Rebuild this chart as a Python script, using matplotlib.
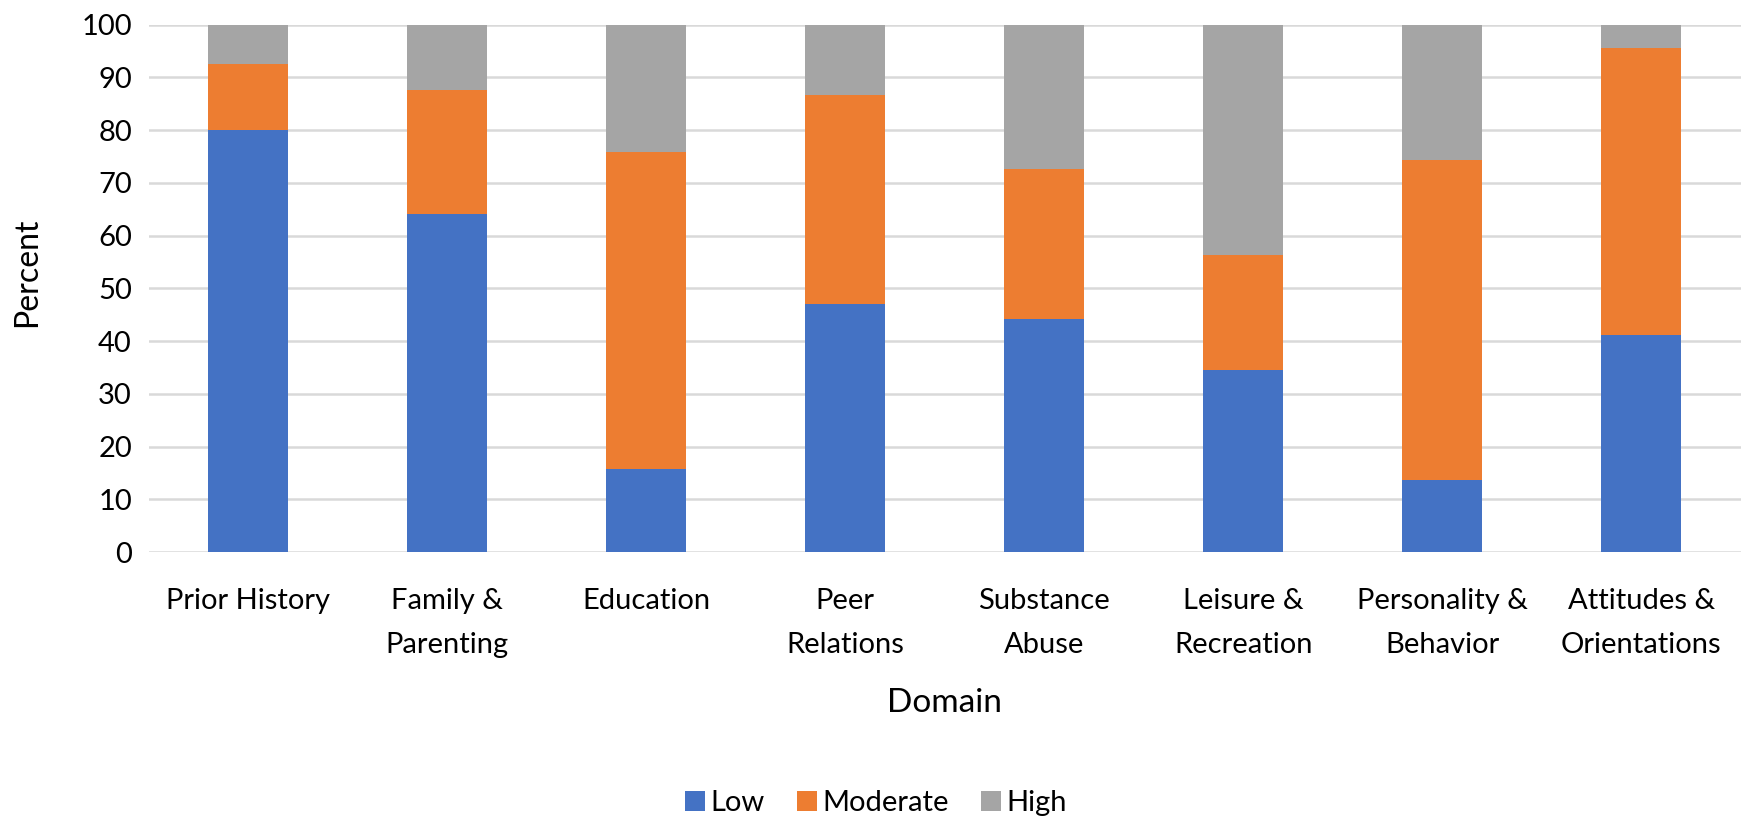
import numpy as np
import matplotlib.pyplot as plt

plt.rcParams['font.family'] = ['Lato', 'DejaVu Sans']

domains = ['Prior History', 'Family &\nParenting', 'Education', 'Peer\nRelations',
           'Substance\nAbuse', 'Leisure &\nRecreation', 'Personality &\nBehavior',
           'Attitudes &\nOrientations']
low = [80.0, 64.1, 15.8, 47.0, 44.1, 34.5, 13.7, 41.1]
moderate = [12.6, 23.6, 60.1, 39.6, 28.5, 21.8, 60.7, 54.5]
high = [7.4, 12.3, 24.1, 13.4, 27.4, 43.7, 25.6, 4.4]

colors = ['#4472C4', '#ED7D31', '#A5A5A5']

fig = plt.figure(figsize=(17.52, 8.21), dpi=100)
ax = fig.add_axes([0.0848, 0.3276, 0.9088, 0.6424])

x = np.arange(len(domains))
width = 0.4
bottom = np.zeros(len(domains))
for vals, label, c in zip([low, moderate, high], ['Low', 'Moderate', 'High'], colors):
    ax.bar(x, vals, width, bottom=bottom, color=c, label=label, zorder=3)
    bottom += np.array(vals)

ax.set_xlim(-0.5, len(domains) - 0.5)
ax.set_ylim(0, 100)
ax.set_yticks(range(0, 101, 10))
ax.set_xticks(x)
ax.set_xticklabels(domains, fontsize=21, linespacing=1.85)
ax.tick_params(axis='y', labelsize=21, length=0, pad=12)
ax.tick_params(axis='x', length=0, pad=26)
ax.grid(axis='y', color='#d9d9d9', linewidth=1.8, zorder=0)
for s in ax.spines.values():
    s.set_visible(False)

ax.set_xlabel('Domain', fontsize=24)
ax.set_ylabel('Percent', fontsize=23)
ax.xaxis.set_label_coords(0.5, -0.258)
ax.yaxis.set_label_coords(-0.067, 0.53)

fig.legend(loc='center', bbox_to_anchor=(0.5, 0.022), ncol=3, frameon=False,
           fontsize=21, handlelength=0.68, handleheight=0.68, handletextpad=0.2,
           columnspacing=1.1)

fig.savefig('out.png', dpi=100)
